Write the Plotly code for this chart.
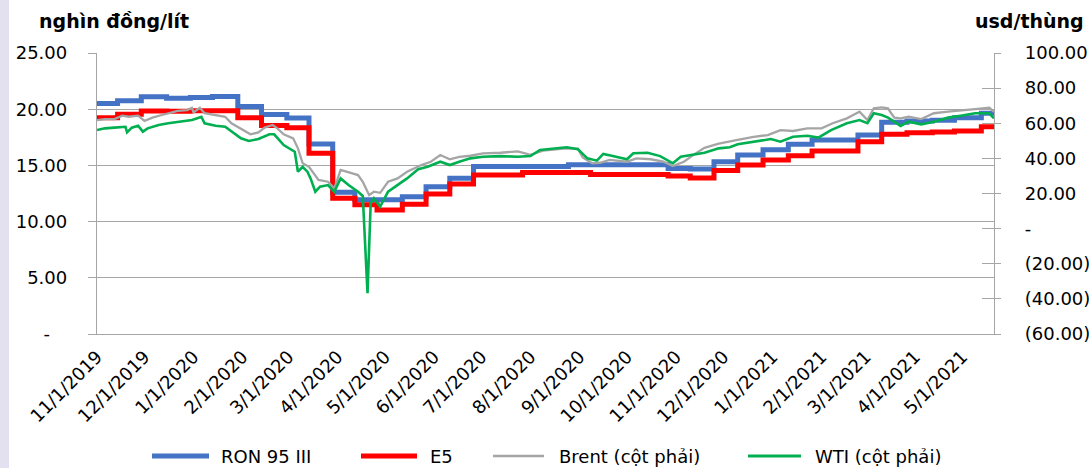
import plotly.graph_objects as go

# ---- Retail fuel prices (thousand VND / litre), step changes on adjustment dates ----
step_dates = [
    "2019-11-01", "2019-11-14", "2019-11-29", "2019-12-15", "2019-12-30",
    "2020-01-13", "2020-01-29", "2020-02-13", "2020-02-29", "2020-03-14",
    "2020-03-29", "2020-04-12", "2020-04-26", "2020-05-12", "2020-05-27",
    "2020-06-11", "2020-06-26", "2020-07-27", "2020-08-25", "2020-09-08",
    "2020-10-27", "2020-11-10", "2020-11-25", "2020-12-10", "2020-12-26",
    "2021-01-11", "2021-01-26", "2021-02-24", "2021-03-11", "2021-03-27",
    "2021-04-12", "2021-04-26", "2021-05-13", "2021-05-21",
]
ron95 = [
    20.50, 20.75, 21.10, 20.98, 21.04, 21.12, 20.24, 19.52, 19.22, 16.90,
    12.62, 11.95, 11.95, 12.22, 13.10, 13.85, 14.90, 14.90, 15.05, 15.05,
    14.72, 14.68, 15.33, 15.93, 16.40, 16.88, 17.26, 17.70, 18.85, 18.95,
    19.02, 19.25, 19.63, 19.63,
]
e5 = [
    19.25, 19.55, 19.85, 19.82, 19.86, 19.86, 19.25, 18.55, 18.35, 16.08,
    12.07, 11.50, 11.03, 11.55, 12.45, 13.35, 14.15, 14.37, 14.37, 14.20,
    14.05, 13.88, 14.55, 15.04, 15.48, 15.86, 16.28, 17.10, 17.77, 17.90,
    17.98, 18.06, 18.44, 18.44,
]

# ---- Crude oil (USD / barrel), right axis ----
brent_dates = [
    "2019-11-01", "2019-11-06", "2019-11-12", "2019-11-17", "2019-11-21", "2019-11-27",
    "2019-12-01", "2019-12-06", "2019-12-12", "2019-12-16", "2019-12-22", "2019-12-28",
    "2019-12-31", "2020-01-01", "2020-01-05", "2020-01-08", "2020-01-15", "2020-01-21",
    "2020-01-25", "2020-02-01", "2020-02-06", "2020-02-11", "2020-02-15", "2020-02-20",
    "2020-02-23", "2020-02-27", "2020-03-04", "2020-03-07", "2020-03-10", "2020-03-14",
    "2020-03-17", "2020-03-20", "2020-03-26", "2020-03-30", "2020-04-03", "2020-04-09",
    "2020-04-14", "2020-04-17", "2020-04-21", "2020-04-24", "2020-04-28", "2020-05-03",
    "2020-05-09", "2020-05-15", "2020-05-24", "2020-05-30", "2020-06-05", "2020-06-11",
    "2020-06-17", "2020-06-24", "2020-07-02", "2020-07-13", "2020-07-24", "2020-08-01",
    "2020-08-09", "2020-08-22", "2020-08-31", "2020-09-03", "2020-09-09", "2020-09-14",
    "2020-09-20", "2020-10-01", "2020-10-07", "2020-10-16", "2020-10-24", "2020-10-30",
    "2020-11-06", "2020-11-12", "2020-11-19", "2020-11-28", "2020-12-05", "2020-12-10",
    "2020-12-20", "2020-12-29", "2021-01-06", "2021-01-14", "2021-01-23", "2021-02-01",
    "2021-02-08", "2021-02-17", "2021-02-21", "2021-02-25", "2021-03-02", "2021-03-06",
    "2021-03-11", "2021-03-15", "2021-03-17", "2021-03-19", "2021-03-23", "2021-03-28",
    "2021-04-05", "2021-04-13", "2021-04-22", "2021-04-30", "2021-05-09", "2021-05-18",
    "2021-05-21",
]
brent = [
    61.8, 62.4, 62.4, 64.3, 63.7, 64.3,
    61.3, 63.2, 64.7, 65.7, 67.0, 67.5,
    68.8, 66.2, 68.8, 65.7, 64.7, 63.7,
    60.0, 56.1, 53.7, 54.8, 57.5, 59.0,
    57.1, 53.7, 51.4, 45.7, 37.2, 35.2,
    31.5, 27.7, 26.7, 22.9, 33.4, 31.8,
    30.5, 26.7, 19.1, 21.0, 20.4, 26.7,
    28.6, 32.4, 36.2, 38.1, 41.9, 39.5,
    40.9, 41.5, 42.9, 43.2, 44.0, 42.0,
    44.4, 45.5, 45.5, 40.5, 37.2, 37.5,
    39.1, 38.1, 40.0, 39.5, 38.1, 35.6,
    38.1, 42.0, 46.0, 48.4, 49.5, 50.5,
    52.3, 53.3, 56.1, 55.6, 57.1, 57.1,
    60.0, 62.8, 64.7, 66.6, 61.8, 68.5,
    69.0, 68.5, 65.7, 63.2, 62.8, 63.7,
    62.4, 65.7, 66.6, 67.5, 68.1, 68.8,
    66.5,
]

wti_dates = [
    "2019-11-01", "2019-11-06", "2019-11-12", "2019-11-19", "2019-11-20", "2019-11-23",
    "2019-11-27", "2019-11-30", "2019-12-03", "2019-12-10", "2019-12-16", "2019-12-25",
    "2019-12-31", "2020-01-02", "2020-01-06", "2020-01-08", "2020-01-15", "2020-01-21",
    "2020-01-25", "2020-01-31", "2020-02-05", "2020-02-11", "2020-02-18", "2020-02-21",
    "2020-02-27", "2020-03-01", "2020-03-05", "2020-03-07", "2020-03-10", "2020-03-13",
    "2020-03-15", "2020-03-18", "2020-03-21", "2020-03-26", "2020-03-30", "2020-04-03",
    "2020-04-08", "2020-04-14", "2020-04-17", "2020-04-20", "2020-04-22", "2020-04-24",
    "2020-04-28", "2020-05-03", "2020-05-09", "2020-05-15", "2020-05-22", "2020-05-28",
    "2020-06-05", "2020-06-11", "2020-06-17", "2020-06-24", "2020-07-02", "2020-07-13",
    "2020-07-24", "2020-08-01", "2020-08-07", "2020-08-18", "2020-08-24", "2020-08-31",
    "2020-09-06", "2020-09-12", "2020-09-16", "2020-09-22", "2020-10-01", "2020-10-05",
    "2020-10-14", "2020-10-22", "2020-10-30", "2020-11-04", "2020-11-10", "2020-11-19",
    "2020-11-28", "2020-12-05", "2020-12-10", "2020-12-20", "2020-12-31", "2021-01-06",
    "2021-01-14", "2021-01-23", "2021-01-30", "2021-02-07", "2021-02-17", "2021-02-25",
    "2021-03-02", "2021-03-06", "2021-03-11", "2021-03-15", "2021-03-19", "2021-03-23",
    "2021-03-28", "2021-04-05", "2021-04-13", "2021-04-22", "2021-04-30", "2021-05-09",
    "2021-05-18", "2021-05-21",
]
wti = [
    56.1, 57.1, 57.5, 58.0, 54.8, 57.5,
    58.6, 55.2, 57.1, 59.0, 60.0, 60.9,
    61.8, 62.4, 63.7, 60.0, 58.6, 58.0,
    55.2, 51.4, 49.9, 51.0, 53.7, 53.7,
    47.6, 46.1, 43.8, 32.4, 35.2, 32.4,
    28.6, 21.0, 23.9, 24.8, 21.0, 28.6,
    24.8, 21.0, 18.6, -36.8, 14.4, 17.3,
    12.5, 21.0, 24.8, 28.6, 33.8, 35.2,
    38.1, 36.2, 38.1, 40.0, 40.9, 41.3,
    40.9, 41.3, 44.8, 45.7, 46.3, 45.2,
    40.0, 38.7, 42.5, 41.3, 39.5, 42.9,
    43.2, 41.3, 37.2, 40.9, 41.9, 43.2,
    45.7, 46.3, 48.0, 49.5, 51.0, 49.5,
    52.3, 52.9, 51.8, 56.1, 60.0, 61.8,
    60.0, 65.7, 64.7, 63.2, 60.9, 58.5,
    60.9, 59.4, 60.9, 63.2, 64.3, 65.7,
    65.7, 62.8,
]

# ---- Axis ticks ----
left_tickvals = [0, 5, 10, 15, 20, 25]
left_ticktext = ["-\u00a0\u00a0\u00a0", "5.00", "10.00", "15.00", "20.00", "25.00"]
right_tickvals = [-60, -40, -20, 0, 20, 40, 60, 80, 100]
right_ticktext = ["(60.00)", "(40.00)", "(20.00)", "-", "20.00", "40.00", "60.00", "80.00", "100.00"]

series_names = ["RON 95 III", "E5", "Brent (cột phải)", "WTI (cột phải)"]
colors = ["#4472C4", "#FF0000", "#A5A5A5", "#00B050"]

W, H = 1089, 468
L, R, T, B = 97, 95, 53, 134
PW, PH = W - L - R, H - T - B
FONT = "DejaVu Sans"
GRID = "#A6A6A6"


def px(x):
    return (x - L) / PW


def py(y):
    return (H - B - y) / PH


fig = go.Figure()
fig.add_trace(go.Scatter(x=step_dates, y=ron95, name=series_names[0], mode="lines",
                         line=dict(color=colors[0], width=5, shape="hv"), yaxis="y"))
fig.add_trace(go.Scatter(x=step_dates, y=e5, name=series_names[1], mode="lines",
                         line=dict(color=colors[1], width=5, shape="hv"), yaxis="y"))
fig.add_trace(go.Scatter(x=brent_dates, y=brent, name=series_names[2], mode="lines",
                         line=dict(color=colors[2], width=2.3), yaxis="y2"))
fig.add_trace(go.Scatter(x=wti_dates, y=wti, name=series_names[3], mode="lines",
                         line=dict(color=colors[3], width=2.6), yaxis="y3"))

# Custom legend row under the date labels
legend_items = [(152, 209, 219, 5), (361, 417, 428, 5), (493, 544, 557, 2.5), (748, 801, 813, 3)]
shapes = []
annotations = []
for (sx0, sx1, tx, lw), name, col in zip(legend_items, series_names, colors):
    shapes.append(dict(type="line", xref="paper", yref="paper",
                       x0=px(sx0), x1=px(sx1), y0=py(456), y1=py(456),
                       line=dict(color=col, width=lw)))
    annotations.append(dict(text=name, xref="paper", yref="paper", x=px(tx), y=py(456),
                            xanchor="left", yanchor="middle", showarrow=False,
                            font=dict(family=FONT, size=18, color="#000000")))

# Light side strip at the left edge
shapes.append(dict(type="rect", xref="paper", yref="paper", layer="below",
                   x0=px(0), x1=px(9), y0=py(H), y1=py(0),
                   fillcolor="#E3E1EF", line=dict(width=0)))

annotations.append(dict(text="<b>nghìn đồng/lít</b>", xref="paper", yref="paper",
                        x=px(37), y=py(21), xanchor="left", yanchor="middle", showarrow=False,
                        font=dict(family=FONT, size=19, color="#000000")))
annotations.append(dict(text="<b>usd/thùng</b>", xref="paper", yref="paper",
                        x=px(1086), y=py(21), xanchor="right", yanchor="middle", showarrow=False,
                        font=dict(family=FONT, size=19, color="#000000")))

fig.update_layout(
    width=W, height=H,
    margin=dict(l=L, r=R, t=T, b=B, pad=0, autoexpand=False),
    paper_bgcolor="white", plot_bgcolor="white",
    showlegend=False,
    font=dict(family=FONT, size=18, color="#000000"),
    shapes=shapes, annotations=annotations,
    xaxis=dict(
        type="date", range=["2019-11-01", "2021-05-21"],
        tick0="2019-11-01", dtick="M1", tickformat="%-m/%-d/%Y",
        tickangle=-45, tickfont=dict(size=18), ticks="",
        showgrid=False, zeroline=False, automargin=False,
        showline=True, linecolor=GRID, linewidth=1.3,
        ticklabelstandoff=4,
    ),
    yaxis=dict(
        range=[0, 25], tickvals=left_tickvals, ticktext=left_ticktext,
        showgrid=True, gridcolor=GRID, gridwidth=1.3, zeroline=False, automargin=False,
        showline=True, linecolor=GRID, linewidth=1.3,
        ticks="outside", ticklen=8, tickcolor=GRID, tickwidth=1.3,
        ticklabelstandoff=17, tickfont=dict(size=18),
    ),
    yaxis2=dict(
        range=[-60, 100], tickvals=right_tickvals, ticktext=right_ticktext,
        overlaying="y", side="right", anchor="x", automargin=False,
        showgrid=False, zeroline=False,
        showline=True, linecolor=GRID, linewidth=1.3,
        ticks="outside", ticklen=6, tickcolor=GRID, tickwidth=1.3,
        ticklabelstandoff=20, tickfont=dict(size=18),
    ),
    yaxis3=dict(
        range=[-60, 100], tickvals=right_tickvals,
        overlaying="y", side="right", anchor="x", automargin=False,
        showgrid=False, zeroline=False, showline=False, showticklabels=False,
        ticks="inside", ticklen=12, tickcolor=GRID, tickwidth=1.3,
    ),
)

fig.write_html("out.html")
